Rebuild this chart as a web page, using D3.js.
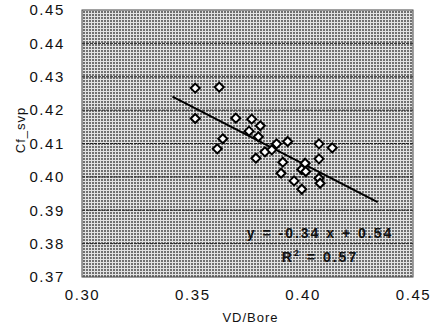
<!DOCTYPE html>
<html>
<head>
  <title>Cf_svp vs VD/Bore</title>
  <script src="https://d3js.org/d3.v7.min.js"></script>
  <style>
    body { margin: 0; background: #fff; }
    text { font-family: "Liberation Sans", Arial, sans-serif; fill: #111; }
  </style>
</head>
<body>
  <svg id="chart" width="438" height="335"></svg>

  <script>
    // Data
    var vdBore = [0.3513, 0.3622, 0.3513, 0.3697, 0.3769, 0.3808, 0.3757, 0.3799, 0.3638,
                  0.3613, 0.3882, 0.3932, 0.3829, 0.3860, 0.3788, 0.4074, 0.4134, 0.3910,
                  0.4074, 0.4011, 0.3996, 0.4014, 0.3902, 0.4074, 0.4079, 0.3961, 0.3996];
    var cfSvp  = [0.4266, 0.4269, 0.4175, 0.4176, 0.4173, 0.4153, 0.4137, 0.4120, 0.4114,
                  0.4084, 0.4099, 0.4106, 0.4075, 0.4081, 0.4056, 0.4099, 0.4087, 0.4044,
                  0.4054, 0.4041, 0.4022, 0.4016, 0.4011, 0.3996, 0.3981, 0.3988, 0.3963];
    var xTicks = [0.30, 0.35, 0.40, 0.45];
    var yTicks = [0.37, 0.38, 0.39, 0.40, 0.41, 0.42, 0.43, 0.44, 0.45];
    var fitSlope = -0.34, fitIntercept = 0.54;
    var fitRange = [0.341, 0.434];

    var margin = { top: 10, right: 25, bottom: 58, left: 82 };
    var width = 438 - margin.left - margin.right;
    var height = 335 - margin.top - margin.bottom;

    var root = d3.select("#chart");

    // halftone-like background pattern
    var pat = root.append("defs").append("pattern")
      .attr("id", "screen")
      .attr("width", 3).attr("height", 3)
      .attr("patternUnits", "userSpaceOnUse");
    pat.append("rect").attr("width", 3).attr("height", 3).attr("fill", "#e2e2e2");
    pat.append("rect").attr("x", 1).attr("y", 1).attr("width", 2).attr("height", 2).attr("fill", "#707070");

    var svg = root.append("g")
      .attr("transform", "translate(" + margin.left + "," + margin.top + ")");

    var x = d3.scaleLinear().domain([0.30, 0.45]).range([0, width]);
    var y = d3.scaleLinear().domain([0.37, 0.45]).range([height, 0]);

    // plot area
    svg.append("rect")
      .attr("width", width).attr("height", height)
      .attr("fill", "url(#screen)");

    // grid lines
    svg.selectAll("line.grid")
      .data(yTicks.slice(1, -1))
      .enter().append("line")
      .attr("class", "grid")
      .attr("x1", 0).attr("x2", width)
      .attr("y1", function(d) { return y(d); })
      .attr("y2", function(d) { return y(d); })
      .attr("stroke", "#222")
      .attr("stroke-width", 1)
      .attr("stroke-dasharray", "3,1");

    svg.append("rect")
      .attr("width", width).attr("height", height)
      .attr("fill", "none")
      .attr("stroke", "#444").attr("stroke-width", 1);

    // axes
    var yAxis = svg.append("g")
      .call(d3.axisLeft(y).tickValues(yTicks).tickSize(0).tickPadding(17).tickFormat(d3.format(".2f")));
    var xAxis = svg.append("g")
      .attr("transform", "translate(0," + height + ")")
      .call(d3.axisBottom(x).tickValues(xTicks).tickSize(0).tickPadding(12).tickFormat(d3.format(".2f")));
    [xAxis, yAxis].forEach(function(a) {
      a.select(".domain").remove();
      a.selectAll("text")
        .attr("font-size", "15px")
        .attr("letter-spacing", "1.6px")
        .attr("fill", "#000");
    });

    // regression line
    svg.append("line")
      .attr("x1", x(fitRange[0])).attr("y1", y(fitSlope * fitRange[0] + fitIntercept))
      .attr("x2", x(fitRange[1])).attr("y2", y(fitSlope * fitRange[1] + fitIntercept))
      .attr("stroke", "#000").attr("stroke-width", 2);

    // points
    var pts = vdBore.map(function(v, i) { return [v, cfSvp[i]]; });
    svg.selectAll("path.pt")
      .data(pts)
      .enter().append("path")
      .attr("class", "pt")
      .attr("d", "M0,-4.5L4.5,0L0,4.5L-4.5,0Z")
      .attr("transform", function(d) { return "translate(" + x(d[0]) + "," + y(d[1]) + ")"; })
      .attr("fill", "#fff")
      .attr("stroke", "#000")
      .attr("stroke-width", 2);

    // equation
    svg.append("text")
      .attr("x", 238).attr("y", 228)
      .attr("text-anchor", "middle")
      .attr("font-size", "14px").attr("font-weight", "bold")
      .attr("letter-spacing", "2px")
      .attr("fill", "#000")
      .text("y = -0.34 x + 0.54");
    var r2 = svg.append("text")
      .attr("x", 238).attr("y", 252)
      .attr("text-anchor", "middle")
      .attr("font-size", "14px").attr("font-weight", "bold")
      .attr("letter-spacing", "2px")
      .attr("fill", "#000");
    r2.append("tspan").text("R");
    r2.append("tspan").attr("font-size", "9px").attr("dy", -6).text("2");
    r2.append("tspan").attr("dy", 6).text(" = 0.57");

    // axis titles
    svg.append("text")
      .attr("x", width / 2 + 3)
      .attr("y", height + 45)
      .attr("text-anchor", "middle")
      .attr("font-size", "13px")
      .attr("letter-spacing", "1px")
      .text("VD/Bore");

    svg.append("text")
      .attr("transform", "rotate(-90)")
      .attr("x", -120)
      .attr("y", -57)
      .attr("text-anchor", "middle")
      .attr("font-size", "13px")
      .attr("letter-spacing", "1px")
      .text("Cf_svp");
  </script>
</body>
</html>
